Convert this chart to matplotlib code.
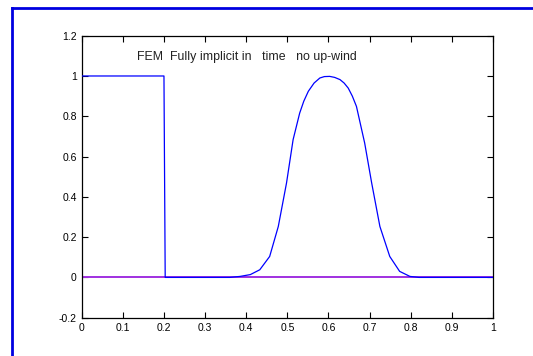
import matplotlib
matplotlib.use("Agg")
import matplotlib.pyplot as plt
from matplotlib.lines import Line2D

plt.rcParams['font.family'] = ['Liberation Sans', 'DejaVu Sans']

# Solution curve
x_vals = [0.0, 0.2, 0.203, 0.36, 0.385, 0.41, 0.433, 0.457, 0.478, 0.498, 0.514,
          0.530, 0.540, 0.551, 0.565, 0.579, 0.590, 0.603, 0.615, 0.628, 0.638,
          0.648, 0.658, 0.668, 0.688, 0.705, 0.725, 0.749, 0.773, 0.798, 0.82, 1.0]
u_vals = [1.0, 1.0, 0.0, 0.0, 0.005, 0.014, 0.038, 0.104, 0.253, 0.469, 0.684,
          0.816, 0.875, 0.924, 0.965, 0.990, 0.997, 0.998, 0.993, 0.982, 0.965,
          0.940, 0.900, 0.849, 0.667, 0.469, 0.253, 0.104, 0.030, 0.005, 0.0, 0.0]

# Reference (zero) line
zero_x = [0.0, 1.0]
zero_u = [0.0, 0.0]

x_ticks = [0, 0.1, 0.2, 0.3, 0.4, 0.5, 0.6, 0.7, 0.8, 0.9, 1]
x_tick_labels = ["0", "0.1", "0.2", "0.3", "0.4", "0.5", "0.6", "0.7", "0.8", "0.9", "1"]
y_ticks = [-0.2, 0, 0.2, 0.4, 0.6, 0.8, 1, 1.2]
y_tick_labels = ["-0.2", "0", "0.2", "0.4", "0.6", "0.8", "1", "1.2"]

title_text = "FEM  Fully implicit in   time   no up-wind"

fig = plt.figure(figsize=(5.33, 3.56), dpi=100)
fig.patch.set_facecolor('white')

# slide frame
fig.add_artist(Line2D([12/533, 12/533], [0, 1 - 8/356], transform=fig.transFigure,
                      color='#0000e0', lw=2))
fig.add_artist(Line2D([12/533, 1], [1 - 8/356, 1 - 8/356], transform=fig.transFigure,
                      color='#0000e0', lw=2))

ax = fig.add_axes([81.7/533, 1 - 317.7/356, (493 - 81.7)/533, (317.7 - 35.7)/356])
ax.plot(zero_x, zero_u, color='#a030e0', lw=1.4, zorder=2)
ax.plot(x_vals, u_vals, color='#0000ff', lw=0.9, zorder=3)

ax.set_xlim(0, 1)
ax.set_ylim(-0.2, 1.2)
ax.set_xticks(x_ticks)
ax.set_xticklabels(x_tick_labels)
ax.set_yticks(y_ticks)
ax.set_yticklabels(y_tick_labels)
ax.tick_params(direction='in', length=4, width=0.8, top=True, right=True,
               labelsize=7.5, colors='black', pad=3.5)
for s in ax.spines.values():
    s.set_linewidth(0.9)

ax.text(0.134, 1.08, title_text, fontsize=8.9, color='#222222', ha='left',
        va='baseline')

fig.savefig("out.png", dpi=100)
